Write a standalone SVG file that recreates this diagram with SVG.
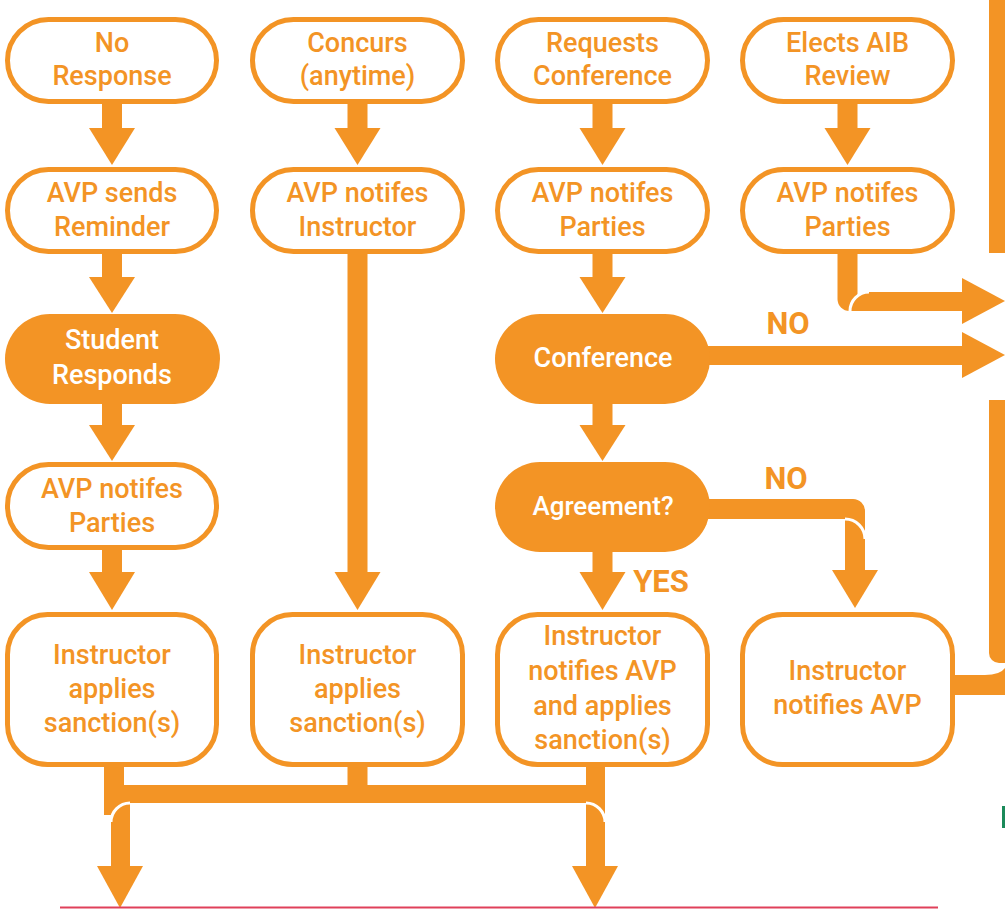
<svg xmlns="http://www.w3.org/2000/svg" width="1005" height="909" viewBox="0 0 1005 909">
<style>
.box{fill:#fff;stroke:#F39425;stroke-width:5}
.fbox{fill:#F39425}
.t{font-family:Roboto,"Liberation Sans",sans-serif;font-weight:500;font-size:27px;fill:#F39425;text-anchor:middle}
.w{fill:#fff}
.lbl{font-family:Roboto,"Liberation Sans",sans-serif;font-weight:700;font-size:31px;fill:#F39425;text-anchor:middle}
.c{fill:#F39425}
.gap{fill:none;stroke:#fff;stroke-width:3}
</style>
<rect width="1005" height="909" fill="#fff"/>
<g id="connectors">
<rect class="c" x="102" y="100" width="20" height="30"/><polygon class="c" points="89,128 135,128 112,165"/>
<rect class="c" x="102" y="250" width="20" height="29"/><polygon class="c" points="89,277 135,277 112,313"/>
<rect class="c" x="102" y="400" width="20" height="27"/><polygon class="c" points="89,425 135,425 112,461"/>
<rect class="c" x="102" y="546" width="20" height="28"/><polygon class="c" points="89,572 135,572 112,610"/>
<rect class="c" x="347.5" y="100" width="20" height="30"/><polygon class="c" points="334.5,128 380.5,128 357.5,165"/>
<rect class="c" x="347.5" y="250" width="20" height="324"/><polygon class="c" points="334.5,572 380.5,572 357.5,610"/>
<rect class="c" x="592.5" y="100" width="20" height="30"/><polygon class="c" points="579.5,128 625.5,128 602.5,165"/>
<rect class="c" x="592.5" y="250" width="20" height="29"/><polygon class="c" points="579.5,277 625.5,277 602.5,313"/>
<rect class="c" x="592.5" y="400" width="20" height="27"/><polygon class="c" points="579.5,425 625.5,425 602.5,461"/>
<rect class="c" x="592.5" y="546" width="20" height="28"/><polygon class="c" points="579.5,572 625.5,572 602.5,610"/>
<rect class="c" x="837.5" y="100" width="20" height="30"/><polygon class="c" points="824.5,128 870.5,128 847.5,165"/>
<path class="c" d="M837.5,250 V299 A12,12 0 0 0 849.5,311 H857.5 V250 Z"/>
<path class="c" d="M850,311 A19,19 0 0 1 869,292 H964 V311 Z"/>
<path class="gap" d="M850,311 A19,19 0 0 1 869,292"/>
<polygon class="c" points="962,278 962,324 1005,301"/>
<rect class="c" x="705" y="346" width="259" height="19"/>
<polygon class="c" points="962,332 962,378 1005,355"/>
<path class="c" d="M705,499 H853 A12,12 0 0 1 865,511 V545 H845 V519 H705 Z"/>
<path class="c" d="M845,519 A20,20 0 0 1 865,539 V572 H845 Z"/>
<path class="gap" d="M845,519 A20,20 0 0 1 865,539"/>
<polygon class="c" points="832,570 878,570 855,608"/>
<rect class="c" x="989" y="0" width="20" height="253"/>
<path class="c" d="M952,675 H985 Q1000,675 1005,668 V695 H952 Z"/>
<path class="c" d="M989,400 V653 A10,10 0 0 0 999,663 H1009 V400 Z"/>
<rect class="c" x="104" y="764" width="20" height="51"/>
<rect class="c" x="347.5" y="764" width="20" height="24"/>
<rect class="c" x="586" y="764" width="19" height="51"/>
<rect class="c" x="104" y="785" width="501" height="18"/>
<path class="c" d="M111,867 V822 A19,19 0 0 1 130,803 V867 Z"/>
<path class="gap" d="M111,822 A19,19 0 0 1 130,803"/>
<polygon class="c" points="97,866 143,866 120,908"/>
<path class="c" d="M586,867 V803 A19,19 0 0 1 605,822 V867 Z"/>
<path class="gap" d="M586,803 A19,19 0 0 1 605,822"/>
<polygon class="c" points="572,866 618,866 595,908"/>
</g>
<g id="labels">
<text class="lbl" x="788" y="334">NO</text>
<text class="lbl" x="786" y="489">NO</text>
<text class="lbl" x="661" y="592">YES</text>
</g>
<g id="no-response"><rect class="box" x="7.5" y="19.5" width="209" height="82" rx="41"/><text class="t" x="112" y="52">No</text><text class="t" x="112" y="85">Response</text></g>
<g id="concurs"><rect class="box" x="252.5" y="19.5" width="210" height="82" rx="41"/><text class="t" x="357.5" y="52">Concurs</text><text class="t" x="357.5" y="85">(anytime)</text></g>
<g id="requests-conference"><rect class="box" x="497.5" y="19.5" width="210" height="82" rx="41"/><text class="t" x="602.5" y="52">Requests</text><text class="t" x="602.5" y="85">Conference</text></g>
<g id="elects-aib"><rect class="box" x="742.5" y="19.5" width="210" height="82" rx="41"/><text class="t" x="847.5" y="52">Elects AIB</text><text class="t" x="847.5" y="85">Review</text></g>
<g id="avp-reminder"><rect class="box" x="7.5" y="169.5" width="209" height="82" rx="41"/><text class="t" x="112" y="202">AVP sends</text><text class="t" x="112" y="236">Reminder</text></g>
<g id="avp-instructor"><rect class="box" x="252.5" y="169.5" width="210" height="82" rx="41"/><text class="t" x="357.5" y="202">AVP notifes</text><text class="t" x="357.5" y="236">Instructor</text></g>
<g id="avp-parties-3"><rect class="box" x="497.5" y="169.5" width="210" height="82" rx="41"/><text class="t" x="602.5" y="202">AVP notifes</text><text class="t" x="602.5" y="236">Parties</text></g>
<g id="avp-parties-4"><rect class="box" x="742.5" y="169.5" width="210" height="82" rx="41"/><text class="t" x="847.5" y="202">AVP notifes</text><text class="t" x="847.5" y="236">Parties</text></g>
<g id="student-responds"><rect class="fbox" x="5" y="314" width="215" height="90" rx="45"/><text class="t w" x="112" y="349">Student</text><text class="t w" x="112" y="384">Responds</text></g>
<g id="conference"><rect class="fbox" x="495" y="314" width="215" height="90" rx="45"/><text class="t w" x="603" y="367">Conference</text></g>
<g id="avp-parties-1"><rect class="box" x="7.5" y="464.5" width="209" height="83" rx="41"/><text class="t" x="112" y="498">AVP notifes</text><text class="t" x="112" y="532">Parties</text></g>
<g id="agreement"><rect class="fbox" x="495" y="462" width="215" height="90" rx="45"/><text class="t w" x="603" y="515" style="font-size:26px">Agreement?</text></g>
<g id="instr-1"><rect class="box" x="7.5" y="614.5" width="209" height="150" rx="40"/><text class="t" x="112" y="664">Instructor</text><text class="t" x="112" y="698">applies</text><text class="t" x="112" y="732">sanction(s)</text></g>
<g id="instr-2"><rect class="box" x="252.5" y="614.5" width="210" height="150" rx="40"/><text class="t" x="357.5" y="664">Instructor</text><text class="t" x="357.5" y="698">applies</text><text class="t" x="357.5" y="732">sanction(s)</text></g>
<g id="instr-3"><rect class="box" x="497.5" y="614.5" width="210" height="150" rx="40"/><text class="t" x="602.5" y="645">Instructor</text><text class="t" x="602.5" y="680">notifies AVP</text><text class="t" x="602.5" y="715">and applies</text><text class="t" x="602.5" y="749">sanction(s)</text></g>
<g id="instr-4"><rect class="box" x="742.5" y="614.5" width="210" height="150" rx="40"/><text class="t" x="847.5" y="680">Instructor</text><text class="t" x="847.5" y="714">notifies AVP</text></g>
<rect x="1002" y="806" width="3" height="22" fill="#1B8A5A"/>
<line x1="60" y1="907.5" x2="938" y2="907.5" stroke="#E0405A" stroke-width="2"/>
</svg>
